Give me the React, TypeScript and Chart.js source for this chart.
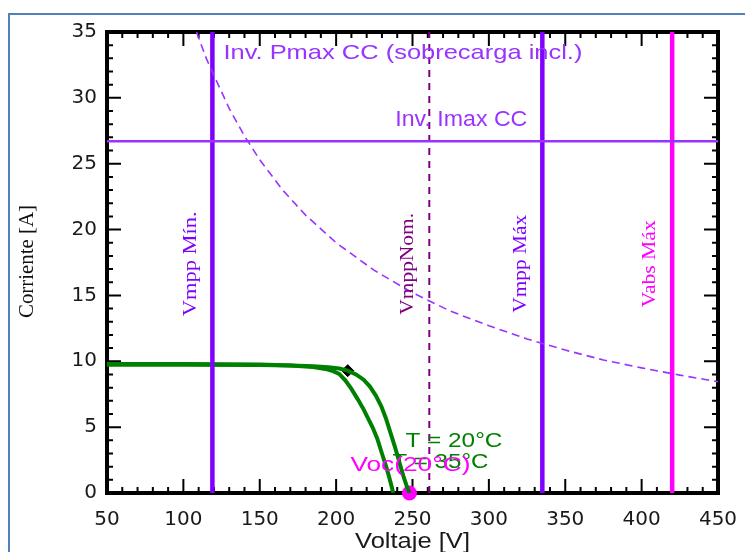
import React, { useEffect, useRef } from 'react';
import { Chart, registerables } from 'chart.js';

Chart.register(...registerables);

// ---- data ----
const xMin = 50;
const xMax = 450;
const xStep = 50;
const yMin = 0;
const yMax = 35;
const yStep = 5;

// I-V curve at T = 20°C
const ivVolt20 = [50, 100, 150, 170, 185, 195, 202, 207.6, 213, 218, 222, 226, 229.5, 232.5, 235.5, 238.5, 241.5, 244, 246, 248];
const ivCurr20 = [9.74, 9.73, 9.72, 9.68, 9.62, 9.55, 9.45, 9.29, 9.0, 8.6, 8.1, 7.4, 6.6, 5.7, 4.6, 3.5, 2.3, 1.3, 0.6, 0];

// I-V curve at T = 35°C
const ivVolt35 = [50, 100, 150, 170, 185, 193, 198, 202, 206, 210, 214, 218, 221, 224, 227, 230, 232.5, 234.5, 236, 237.4];
const ivCurr35 = [9.8, 9.79, 9.76, 9.68, 9.56, 9.42, 9.25, 9.05, 8.55, 7.9, 7.15, 6.35, 5.65, 4.95, 4.1, 3.0, 2.1, 1.3, 0.65, 0];

// Inverter Pmax DC (overload incl.) limit curve
const pmaxVolt = [108.6, 115, 120, 130, 140, 150, 165, 180, 200, 225, 250, 275, 300, 325, 350, 375, 400, 425, 450];
const pmaxCurr = [35, 33.0, 31.7, 29.2, 27.1, 25.3, 23.0, 21.1, 19.0, 16.9, 15.2, 13.8, 12.7, 11.7, 10.85, 10.1, 9.5, 8.95, 8.45];

// Inverter limits
const imaxCC = 26.7;
const limitNames = ['Vmpp Mín.', 'VmppNom.', 'Vmpp Máx', 'Vabs Máx'];
const limitVolts = [119, 261, 335, 420];

// Marked points
const mppVolt = [207.6];
const mppCurr = [9.29];
const vocVolt = [248];
const vocCurr = [0];

// Texts
const xTitle = 'Voltaje [V]';
const yTitle = 'Corriente [A]';
const pmaxLabel = 'Inv. Pmax CC (sobrecarga incl.)';
const imaxLabel = 'Inv. Imax CC';
const t20Label = 'T = 20°C';
const t35Label = 'T = 35°C';
const vocLabel = 'Voc(20°C)';

const VIOLET = '#8000ff';
const LIGHT_VIOLET = '#9933ff';
const PURPLE = '#800080';
const MAGENTA = '#ff00ff';
const GREEN = '#008000';

const pts = (xs: number[], ys: number[]) => xs.map((x, i) => ({ x, y: ys[i] }));
const vline = (v: number) => [{ x: v, y: yMin }, { x: v, y: yMax }];

function fitText(
  ctx: CanvasRenderingContext2D,
  text: string,
  x: number,
  y: number,
  font: string,
  color: string,
  width: number,
  rotate: boolean,
  align: CanvasTextAlign
) {
  ctx.save();
  ctx.font = font;
  ctx.fillStyle = color;
  const w = ctx.measureText(text).width;
  ctx.translate(x, y);
  if (rotate) ctx.rotate(-Math.PI / 2);
  ctx.scale(width / w, 1);
  ctx.textAlign = align;
  ctx.textBaseline = 'middle';
  ctx.fillText(text, 0, 0);
  ctx.restore();
}

const framePlugin = {
  id: 'frame',
  beforeDraw(chart: any) {
    const { ctx, width, height } = chart;
    ctx.save();
    ctx.fillStyle = '#ffffff';
    ctx.fillRect(0, 0, width, height);
    ctx.strokeStyle = '#4f81bd';
    ctx.lineWidth = 2;
    ctx.beginPath();
    ctx.moveTo(9, height);
    ctx.lineTo(9, 14);
    ctx.lineTo(width, 14);
    ctx.stroke();
    ctx.restore();
  },
  beforeDatasetsDraw(chart: any) {
    const { ctx, chartArea, scales } = chart;
    const { left, right, top, bottom } = chartArea;
    const xs = scales.x;
    const ys = scales.y;
    ctx.save();
    ctx.strokeStyle = '#000';
    ctx.lineWidth = 2;
    ctx.beginPath();
    for (let v = xMin; v <= xMax; v += 10) {
      const px = xs.getPixelForValue(v);
      const len = v % xStep === 0 ? 14 : 6;
      ctx.moveTo(px, bottom);
      ctx.lineTo(px, bottom - len);
      ctx.moveTo(px, top);
      ctx.lineTo(px, top + len);
    }
    for (let v = yMin; v <= yMax; v += 1) {
      const py = ys.getPixelForValue(v);
      const len = v % yStep === 0 ? 14 : 6;
      ctx.moveTo(left, py);
      ctx.lineTo(left + len, py);
      ctx.moveTo(right, py);
      ctx.lineTo(right - len, py);
    }
    ctx.stroke();
    ctx.lineWidth = 4;
    ctx.strokeRect(left, top, right - left, bottom - top);
    ctx.restore();
  },
  afterDatasetsDraw(chart: any) {
    const { ctx, chartArea, scales } = chart;
    const xs = scales.x;
    const ys = scales.y;
    const sans = 'Arial, "Liberation Sans", sans-serif';
    const serif = '"Times New Roman", "Liberation Serif", serif';

    // axis titles
    fitText(ctx, xTitle, (chartArea.left + chartArea.right) / 2, 542, `22px ${sans}`, '#1a1a1a', 115, false, 'center');
    fitText(ctx, yTitle, 27, ys.getPixelForValue(17.5) - 1, `21px ${serif}`, '#111', 113, true, 'center');

    // limit labels
    fitText(ctx, pmaxLabel, xs.getPixelForValue(limitVolts[0]) + 11, ys.getPixelForValue(33.4), `21px ${sans}`, LIGHT_VIOLET, 359, false, 'left');
    fitText(ctx, imaxLabel, xs.getPixelForValue(limitVolts[1]) - 34, ys.getPixelForValue(28.3), `22px ${sans}`, LIGHT_VIOLET, 132, false, 'left');

    const vColors = [VIOLET, PURPLE, VIOLET, MAGENTA];
    const vLens = [105, 102, 98, 87];
    limitNames.forEach((name, i) => {
      const px = xs.getPixelForValue(limitVolts[i]) - 21.5;
      fitText(ctx, name, px, ys.getPixelForValue(17.4), `18px ${serif}`, vColors[i], vLens[i], true, 'center');
    });

    // curve labels
    const vx = xs.getPixelForValue(vocVolt[0]);
    fitText(ctx, t20Label, vx - 4, ys.getPixelForValue(3.9), `21px ${sans}`, GREEN, 97, false, 'left');
    fitText(ctx, t35Label, vx - 17, ys.getPixelForValue(2.35), `21px ${sans}`, GREEN, 96, false, 'left');
    fitText(ctx, vocLabel, vx - 59, ys.getPixelForValue(2.1), `21px ${sans}`, MAGENTA, 120, false, 'left');
  },
};

const noPad = (s: any) => {
  s.paddingLeft = 0;
  s.paddingRight = 0;
  s.paddingTop = 0;
  s.paddingBottom = 0;
};

export default function App() {
  const ref = useRef<HTMLCanvasElement | null>(null);

  useEffect(() => {
    if (!ref.current) return;
    const lineDs = (data: any[], color: string, width: number, dash: number[] = []) => ({
      data,
      showLine: true,
      borderColor: color,
      backgroundColor: color,
      borderWidth: width,
      borderDash: dash,
      pointRadius: 0,
      tension: 0,
      fill: false,
    });
    const chart = new Chart(ref.current, {
      type: 'scatter',
      data: {
        datasets: [
          lineDs(pts(pmaxVolt, pmaxCurr), LIGHT_VIOLET, 1.6, [8, 5]),
          lineDs([{ x: xMin, y: imaxCC }, { x: xMax, y: imaxCC }], LIGHT_VIOLET, 2.5),
          lineDs(vline(limitVolts[0]), VIOLET, 4.5),
          lineDs(vline(limitVolts[1]), PURPLE, 2, [7, 6]),
          lineDs(vline(limitVolts[2]), VIOLET, 4.5),
          lineDs(vline(limitVolts[3]), MAGENTA, 4.5),
          lineDs(pts(ivVolt35, ivCurr35), GREEN, 4),
          lineDs(pts(ivVolt20, ivCurr20), GREEN, 4),
          {
            data: pts(mppVolt, mppCurr),
            pointStyle: 'rectRot',
            pointRadius: 6,
            backgroundColor: '#000',
            borderColor: '#000',
            borderWidth: 1,
            clip: false,
          } as any,
          {
            data: pts(vocVolt, vocCurr),
            pointStyle: 'circle',
            pointRadius: 7.5,
            backgroundColor: MAGENTA,
            borderColor: MAGENTA,
            borderWidth: 0,
            clip: false,
          } as any,
        ],
      },
      options: {
        animation: false,
        responsive: true,
        maintainAspectRatio: false,
        events: [],
        layout: { padding: { top: 32, right: 27, left: 0, bottom: 0 } },
        plugins: { legend: { display: false }, tooltip: { enabled: false } },
        scales: {
          x: {
            type: 'linear',
            min: xMin,
            max: xMax,
            ticks: {
              stepSize: xStep,
              autoSkip: false,
              maxRotation: 0,
              padding: 15,
              color: '#1a1a1a',
              font: { family: '"DejaVu Sans", sans-serif', size: 20 },
            },
            grid: { display: false, drawTicks: false },
            border: { display: false },
            afterFit: (s: any) => {
              s.height = 59;
              noPad(s);
            },
          },
          y: {
            type: 'linear',
            min: yMin,
            max: yMax,
            ticks: {
              stepSize: yStep,
              autoSkip: false,
              padding: 10,
              color: '#1a1a1a',
              font: { family: '"DejaVu Sans", sans-serif', size: 20 },
            },
            grid: { display: false, drawTicks: false },
            border: { display: false },
            afterFit: (s: any) => {
              s.width = 107;
              noPad(s);
            },
          },
        },
      } as any,
      plugins: [framePlugin],
    });
    return () => chart.destroy();
  }, []);

  return (
    <div style={{ position: 'fixed', left: 0, top: 0, width: 745, height: 552, background: '#fff' }}>
      <canvas ref={ref} />
    </div>
  );
}
